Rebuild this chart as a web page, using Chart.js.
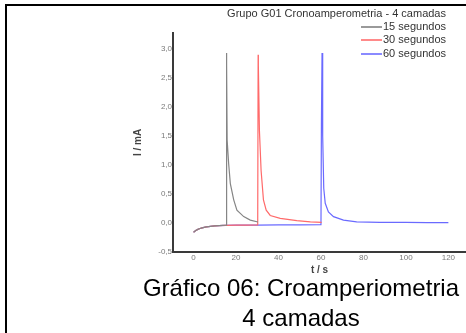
<!DOCTYPE html>
<html><head><meta charset="utf-8">
<script src="https://cdn.jsdelivr.net/npm/chart.js@4"></script>
<style>
html,body{margin:0;padding:0;background:#fff;}
#wrap{position:relative;width:466px;height:333px;overflow:hidden;font-family:"Liberation Sans",Arial,sans-serif;}
#c{position:absolute;left:0;top:0;}
.bl{position:absolute;left:5px;top:4px;width:2px;height:329px;background:#000;}
.bt{position:absolute;left:5px;top:4px;width:461px;height:2px;background:#000;}
#title{position:absolute;right:20px;top:6px;font-size:11px;line-height:14px;color:#333;white-space:nowrap;}
.leg{position:absolute;right:20px;height:13px;font-size:11px;line-height:13px;color:#333;white-space:nowrap;}
.leg span.sw{position:absolute;display:block;right:64px;top:6px;width:21px;height:2px;}
#cap{position:absolute;left:136px;width:330px;top:273px;text-align:center;font-size:24px;line-height:30px;color:#000;}
</style></head>
<body>
<div id="wrap">
<canvas id="c" width="466" height="333"></canvas>
<div class="bl"></div><div class="bt"></div>
<div id="title"></div>
<div id="legend"></div>
<div id="cap"></div>
</div>
<script>
const chartTitle = 'Grupo G01 Cronoamperometria - 4 camadas';
const captionLines = ['Gráfico 06: Croamperiometria', '4 camadas'];
const seriesNames = ['15 segundos', '30 segundos', '60 segundos'];
const seriesColors = ['#858585', '#ff6a6a', '#6a6aff'];
const legendColors = ['#9a9a9a', '#ff8a8a', '#8a8aff'];
const xTitle = 't / s';
const yTitle = 'I / mA';
const xTicks = [0, 20, 40, 60, 80, 100, 120];
const yTicks = [-0.5, 0.0, 0.5, 1.0, 1.5, 2.0, 2.5, 3.0];

const t15 = [0,1,2,3,4,5,6,8,10,12,15.3,15.5,15.6,15.8,16.5,17.3,18.9,20.4,23.6,26.7,30.3];
const i15 = [-0.16,-0.13,-0.11,-0.095,-0.085,-0.075,-0.068,-0.058,-0.05,-0.045,-0.038,2.93,2.72,1.43,1.03,0.68,0.40,0.22,0.11,0.05,0.017];

const t30 = [0,1,2,3,4,5,6,8,10,12,15,20,25,30.2,30.4,30.5,31,31.8,32.9,34.2,36.1,40.8,48.6,55,60.3];
const i30 = [-0.16,-0.13,-0.11,-0.095,-0.085,-0.075,-0.068,-0.058,-0.05,-0.045,-0.04,-0.037,-0.035,-0.033,2.9,2.72,1.6,0.9,0.4,0.22,0.13,0.08,0.04,0.02,0.012];

const t60 = [0,1,2,3,4,5,6,8,10,12,15,20,30,40,50,60,60.2,60.5,60.8,61.3,62,63.5,65.9,70.6,76.8,87.8,100,110,120];
const i60 = [-0.16,-0.13,-0.11,-0.095,-0.085,-0.075,-0.068,-0.058,-0.05,-0.045,-0.04,-0.037,-0.035,-0.033,-0.032,-0.03,1.7,2.93,1.5,0.6,0.34,0.19,0.11,0.05,0.02,0.012,0.01,0.008,0.006];

const seriesT = [t15, t30, t60];
const seriesI = [i15, i30, i60];

document.getElementById('title').textContent = chartTitle;
const legTops = [20, 33, 47];
const legEl = document.getElementById('legend');
seriesNames.forEach((n, k) => {
  const d = document.createElement('div');
  d.className = 'leg';
  d.style.top = legTops[k] + 'px';
  const sw = document.createElement('span');
  sw.className = 'sw';
  sw.style.backgroundColor = legendColors[k];
  const tx = document.createElement('span');
  tx.textContent = n;
  d.appendChild(sw); d.appendChild(tx);
  legEl.appendChild(d);
});
document.getElementById('cap').innerHTML = captionLines.map(s => '<div>' + s + '</div>').join('');

const datasets = seriesNames.map((n, k) => ({
  label: n,
  data: seriesT[k].map((t, j) => ({x: t, y: seriesI[k][j]})),
  borderColor: seriesColors[k],
  backgroundColor: seriesColors[k],
  borderWidth: 1.2,
  pointRadius: 0,
  tension: 0,
  fill: false
}));

new Chart(document.getElementById('c'), {
  type: 'line',
  data: { datasets },
  options: {
    responsive: false,
    animation: false,
    devicePixelRatio: 1,
    layout: { padding: { top: 33, right: 0, bottom: 57, left: 0 } },
    plugins: { legend: { display: false }, title: { display: false }, tooltip: { enabled: false } },
    scales: {
      x: {
        type: 'linear',
        min: -9.7, max: 128.3,
        afterFit: s => { s.height = 24; },
        afterBuildTicks: s => { s.ticks = xTicks.map(v => ({ value: v })); },
        grid: { display: false, drawTicks: false },
        border: { display: true, color: '#3a3a3a', width: 2 },
        ticks: { padding: 1, color: '#7a7a7a', font: { family: 'Liberation Sans', size: 8 }, maxRotation: 0, autoSkip: false, callback: v => String(v) },
        title: { display: true, text: xTitle, color: '#444', font: { family: 'Liberation Sans', size: 10, weight: 'bold' }, padding: { top: 0, bottom: 0 } }
      },
      y: {
        min: -0.5, max: 3.276,
        afterFit: s => { s.width = 173; },
        afterBuildTicks: s => { s.ticks = yTicks.map(v => ({ value: v })); },
        grid: { display: false, drawTicks: false },
        border: { display: true, color: '#3a3a3a', width: 2 },
        ticks: { padding: 1, color: '#7a7a7a', font: { family: 'Liberation Sans', size: 8 }, autoSkip: false, callback: v => v.toFixed(1).replace('.', ',') },
        title: { display: true, text: yTitle, color: '#444', font: { family: 'Liberation Sans', size: 10, weight: 'bold' }, padding: { top: 132, bottom: 0 } }
      }
    }
  }
});
</script>
</body></html>
